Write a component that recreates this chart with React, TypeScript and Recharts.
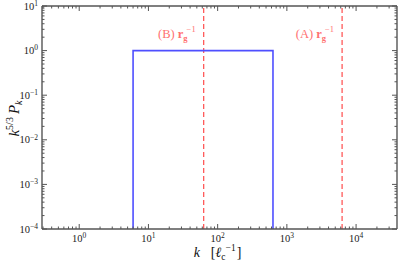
import React from "react";
import { LineChart, Line, XAxis, YAxis, ReferenceLine, Label } from "recharts";

// ---- data ----
const X_DOMAIN: [number, number] = [0.29, 39000];
const Y_DOMAIN: [number, number] = [1e-4, 10];

const xMajorTicks = [1, 10, 100, 1000, 10000];
const xMinorTicks = [
  0.3, 0.4, 0.5, 0.6, 0.7, 0.8, 0.9,
  2, 3, 4, 5, 6, 7, 8, 9,
  20, 30, 40, 50, 60, 70, 80, 90,
  200, 300, 400, 500, 600, 700, 800, 900,
  2000, 3000, 4000, 5000, 6000, 7000, 8000, 9000,
  20000, 30000,
];
const yMajorTicks = [1e-4, 1e-3, 1e-2, 1e-1, 1, 10];
const yMinorTicks = [
  2e-4, 3e-4, 4e-4, 5e-4, 6e-4, 7e-4, 8e-4, 9e-4,
  2e-3, 3e-3, 4e-3, 5e-3, 6e-3, 7e-3, 8e-3, 9e-3,
  2e-2, 3e-2, 4e-2, 5e-2, 6e-2, 7e-2, 8e-2, 9e-2,
  0.2, 0.3, 0.4, 0.5, 0.6, 0.7, 0.8, 0.9,
  2, 3, 4, 5, 6, 7, 8, 9,
];

// spectrum window (blue box): k, k^{5/3} P_k
const spectrumK = [6.0, 6.0, 630, 630];
const spectrumP = [1e-4, 1, 1, 1e-4];

// inverse gyroradius markers
const rgInvLabels = ["(B)", "(A)"];
const rgInvK = [62.8, 6280];

const spectrum = spectrumK.map((k, i) => ({ k, p: spectrumP[i] }));
const xTicks = [...xMajorTicks, ...xMinorTicks].sort((a, b) => a - b);
const yTicks = [...yMajorTicks, ...yMinorTicks].sort((a, b) => a - b);

// ---- style ----
const AXIS = "#555555";
const FONT = "'Liberation Serif', 'DejaVu Serif', serif";
const BLUE = "#4f4fff";
const RED = "#ff5a5a";
const RED_TEXT = "#ff7070";

const isMajor = (v: number) => {
  const l = Math.log10(v);
  return Math.abs(l - Math.round(l)) < 1e-9;
};
const expOf = (v: number) => String(Math.round(Math.log10(v))).replace("-", "\u2212");

const BottomTick = (props: any) => {
  const { x, y, payload } = props;
  const v = payload.value;
  const major = isMajor(v);
  return (
    <g>
      <line x1={x} y1={y} x2={x} y2={y - (major ? 5 : 2.5)} stroke={AXIS} strokeWidth={1} />
      {major && (
        <text x={x} y={y + 13} textAnchor="middle" fontFamily={FONT} fontSize={10.5} fill="#222">
          10<tspan dy={-4.5} fontSize={7.5}>{expOf(v)}</tspan>
        </text>
      )}
    </g>
  );
};

const TopTick = (props: any) => {
  const { x, y, payload } = props;
  const major = isMajor(payload.value);
  return <line x1={x} y1={y} x2={x} y2={y + (major ? 5 : 2.5)} stroke={AXIS} strokeWidth={1} />;
};

const LeftTick = (props: any) => {
  const { x, y, payload } = props;
  const v = payload.value;
  const major = isMajor(v);
  return (
    <g>
      <line x1={x} y1={y} x2={x + (major ? 5 : 2.5)} y2={y} stroke={AXIS} strokeWidth={1} />
      {major && (
        <text x={x - 4} y={y + 3.5} textAnchor="end" fontFamily={FONT} fontSize={10.5} fill="#222">
          10<tspan dy={-3.8} fontSize={7.5}>{expOf(v)}</tspan>
        </text>
      )}
    </g>
  );
};

const RightTick = (props: any) => {
  const { x, y, payload } = props;
  const major = isMajor(payload.value);
  return <line x1={x} y1={y} x2={x - (major ? 5 : 2.5)} y2={y} stroke={AXIS} strokeWidth={1} />;
};

const XLabel = (props: any) => {
  const vb = props.viewBox || {};
  const cx = vb.x + vb.width / 2;
  const y = vb.y + 28;
  return (
    <text x={cx - 2} y={y} textAnchor="middle" fontFamily={FONT} fontSize={14} fill="#111">
      <tspan fontStyle="italic">k</tspan>
      <tspan dx={11}>[</tspan>
      <tspan fontStyle="italic">ℓ</tspan>
      <tspan fontSize={9.5} dy={3}>c</tspan>
      <tspan fontSize={9.5} dy={-9.5} dx={0}>{"\u22121"}</tspan>
      <tspan dy={6.5} dx={1}>]</tspan>
    </text>
  );
};

const YLabel = (props: any) => {
  const vb = props.viewBox || {};
  const cy = vb.y + vb.height / 2 + 1;
  const x = 19;
  return (
    <text
      x={x}
      y={cy}
      transform={`rotate(-90, ${x}, ${cy})`}
      textAnchor="middle"
      fontFamily={FONT}
      fontSize={15}
      fill="#111"
    >
      <tspan fontStyle="italic">k</tspan>
      <tspan fontSize={10} dy={-6}>5/3</tspan>
      <tspan dy={6} dx={3} fontStyle="italic">P</tspan>
      <tspan fontSize={10} dy={3} fontStyle="italic">k</tspan>
    </text>
  );
};

const makeRgLabel = (tag: string) => (props: any) => {
  const vb = props.viewBox || {};
  return (
    <text x={vb.x - 8} y={vb.y + 32} textAnchor="end" fontFamily={FONT} fontSize={12.5} fill={RED_TEXT}>
      {tag + " "}
      <tspan fontWeight="bold">r</tspan>
      <tspan fontWeight="bold" fontSize={8.5} dy={3}>g</tspan>
      <tspan fontSize={8.5} dy={-9} dx={-1}>{"\u22121"}</tspan>
    </text>
  );
};

export default function App() {
  return (
    <div style={{ position: "absolute", left: 0, top: 0, background: "#fff" }}>
      <LineChart
        width={399}
        height={263}
        data={spectrum}
        margin={{ top: 0, right: 0, left: 0, bottom: 0 }}
      >
        <XAxis
          xAxisId="b"
          dataKey="k"
          type="number"
          scale="log"
          domain={X_DOMAIN}
          allowDataOverflow
          ticks={xTicks}
          interval={0}
          tickSize={0}
          tickMargin={0}
          tickLine={false}
          tick={<BottomTick />}
          axisLine={{ stroke: AXIS, strokeWidth: 1.4 }}
          height={34}
          orientation="bottom"
        >
          <Label content={<XLabel />} />
        </XAxis>
        <XAxis
          xAxisId="t"
          dataKey="k"
          type="number"
          scale="log"
          domain={X_DOMAIN}
          allowDataOverflow
          ticks={xTicks}
          interval={0}
          tickSize={0}
          tickMargin={0}
          tickLine={false}
          tick={<TopTick />}
          axisLine={{ stroke: AXIS, strokeWidth: 1.4 }}
          height={6}
          orientation="top"
        />
        <YAxis
          yAxisId="l"
          dataKey="p"
          type="number"
          scale="log"
          domain={Y_DOMAIN}
          allowDataOverflow
          ticks={yTicks}
          interval={0}
          tickSize={0}
          tickMargin={0}
          tickLine={false}
          tick={<LeftTick />}
          axisLine={{ stroke: AXIS, strokeWidth: 1.4 }}
          width={42}
          orientation="left"
        >
          <Label content={<YLabel />} />
        </YAxis>
        <YAxis
          yAxisId="r"
          dataKey="p"
          type="number"
          scale="log"
          domain={Y_DOMAIN}
          allowDataOverflow
          ticks={yTicks}
          interval={0}
          tickSize={0}
          tickMargin={0}
          tickLine={false}
          tick={<RightTick />}
          axisLine={{ stroke: AXIS, strokeWidth: 1.4 }}
          width={2}
          orientation="right"
        />
        {rgInvK.map((k, i) => (
          <ReferenceLine
            key={k}
            x={k}
            xAxisId="b"
            yAxisId="l"
            stroke={RED}
            strokeWidth={1.3}
            strokeDasharray="5 3"
            label={makeRgLabel(rgInvLabels[i])}
          />
        ))}
        <Line
          xAxisId="b"
          yAxisId="l"
          dataKey="p"
          type="linear"
          stroke={BLUE}
          strokeWidth={1.6}
          dot={false}
          isAnimationActive={false}
        />
      </LineChart>
    </div>
  );
}
